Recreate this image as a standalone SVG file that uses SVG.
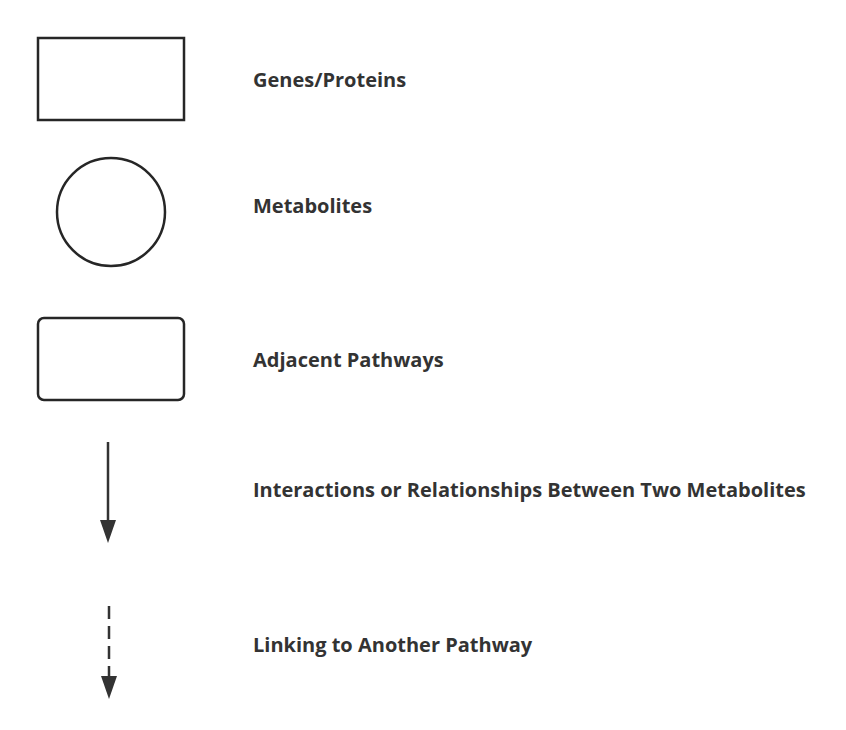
<svg xmlns="http://www.w3.org/2000/svg" width="846" height="730" viewBox="0 0 846 730">
<style>
.shape{fill:#fff;stroke:#262626;stroke-width:2.5}
.lbl{font-family:"Open Sans","Noto Sans","Liberation Sans",sans-serif;font-weight:bold;font-size:20px;fill:#333}
.conn{stroke:#333;stroke-width:2.5;fill:none}
.head{fill:#333}
</style>
<rect width="846" height="730" fill="#fff"/>
<g id="genes-proteins">
<rect class="shape" x="38" y="38" width="146" height="82"/>
<text class="lbl" x="253" y="87">Genes/Proteins</text>
</g>
<g id="metabolites">
<circle class="shape" cx="111" cy="212" r="54"/>
<text class="lbl" x="253" y="213">Metabolites</text>
</g>
<g id="adjacent-pathways">
<rect class="shape" x="38" y="318" width="146" height="82" rx="6"/>
<text class="lbl" x="253" y="367">Adjacent Pathways</text>
</g>
<g id="connectors">
<line class="conn" x1="108" y1="442" x2="108" y2="520"/>
<path class="head" d="M100,520 L116,520 L108,543 Z"/>
<line class="conn" x1="109" y1="606" x2="109" y2="678" stroke-dasharray="13,7"/>
<path class="head" d="M101,676 L117,676 L109,699 Z"/>
</g>
<g id="legend-text">
<text class="lbl" x="253" y="497">Interactions or Relationships Between Two Metabolites</text>
<text class="lbl" x="253" y="652">Linking to Another Pathway</text>
</g>
</svg>
